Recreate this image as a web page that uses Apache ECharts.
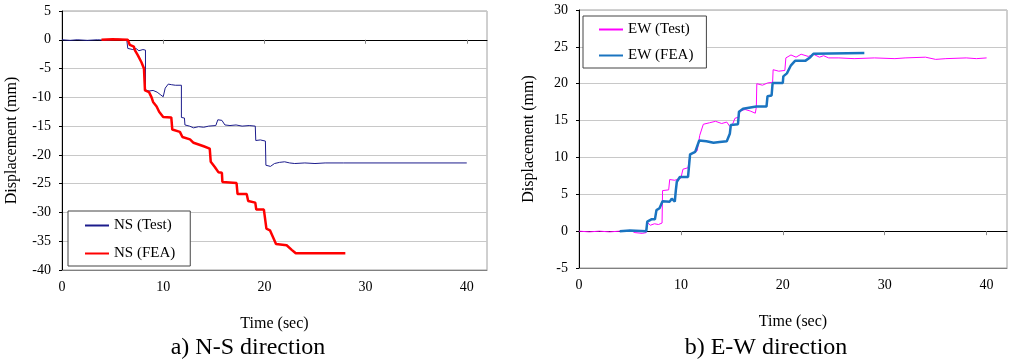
<!DOCTYPE html>
<html>
<head>
<meta charset="utf-8">
<script src="https://cdn.jsdelivr.net/npm/echarts@6/dist/echarts.min.js"></script>
<style>
  html, body { margin: 0; padding: 0; background: #fff; }
  #chart { width: 1014px; height: 364px; }
</style>
</head>
<body>
<div id="chart"></div>
<script>
// time (sec) / displacement (mm) pairs
var nsTest = [
    [0, 0], [0.8, -0.1], [1.5, 0], [2.5, -0.1], [3.5, 0], [4.5, -0.1], [5.5, 0.1], [6.4, 0],
    [6.5, -1.5], [7, -1.7], [7.3, -1.5], [7.6, -1.9], [8, -1.7], [8.25, -1.8],
    [8.25, -8.7], [8.6, -8.9], [9, -8.8], [9.4, -9.1], [9.7, -9.5], [10, -9.9],
    [10.2, -8.4], [10.5, -7.7], [10.8, -7.8], [11.2, -7.9], [11.8, -7.9],
    [11.8, -13.5], [12.1, -13.6], [12.15, -14.8], [12.6, -15.0], [13, -15.3], [13.5, -15.1],
    [14, -15.2], [14.5, -15.0], [15.2, -14.9], [15.4, -13.9], [15.8, -14.0], [16.1, -14.8],
    [16.6, -14.9], [17.2, -14.8], [17.8, -15.0], [18.5, -14.9], [19.1, -15.0],
    [19.15, -17.5], [19.6, -17.4], [20.1, -17.6],
    [20.15, -21.8], [20.6, -22.0], [21, -21.5], [21.5, -21.3], [22, -21.2], [22.5, -21.4],
    [23, -21.5], [24, -21.4], [25, -21.5], [26, -21.4], [27.8, -21.4], [40, -21.4]
];
var nsFea = [
    [3.9, 0], [5, 0.1], [6.5, 0], [6.7, -0.9], [7.1, -1.2], [7.2, -1.8], [7.5, -2.7],
    [7.85, -3.9], [8.1, -5], [8.2, -8.8], [8.6, -9.1], [8.85, -10], [9.0, -10.8],
    [9.35, -11.6], [9.6, -12.5], [10.0, -13.4], [10.8, -13.5], [10.9, -15.6], [11.65, -16.0],
    [11.9, -16.9], [12.65, -17.3], [13, -17.9], [14, -18.5], [14.6, -18.9], [14.7, -21.2],
    [15.1, -22.1], [15.45, -23], [15.8, -23.1], [15.85, -24.7], [17.25, -24.9], [17.35, -26.8],
    [18.25, -26.8], [18.4, -28], [19.1, -28.3], [19.2, -29.5], [19.95, -29.5], [20.2, -32.8],
    [20.55, -33.1], [20.9, -34.5], [21.15, -35.5], [22.2, -35.7], [22.7, -36.5], [23.1, -37.1],
    [28, -37.1]
];
var ewTest = [
    [0, 0], [1, -0.1], [2, 0], [3, -0.1], [4, 0], [5, 0.1], [5.5, -0.2], [6.2, -0.3], [6.6, -0.2],
    [6.7, 1.2], [7, 0.8], [7.4, 1.0], [7.8, 0.9], [8.15, 1.1], [8.2, 5.5], [8.8, 5.6],
    [8.9, 7.0], [9.4, 6.9], [10, 7.2], [10.2, 8.4], [10.7, 8.6], [10.9, 10.4], [11.3, 10.6],
    [11.6, 10.9], [11.85, 13.0], [12.2, 14.5], [12.8, 14.7], [13.4, 14.9], [14, 14.6],
    [14.5, 14.8], [14.8, 14.2], [15.1, 14.6], [15.3, 15.3], [15.7, 15.5], [15.8, 16.3],
    [16.3, 16.5], [16.8, 16.3], [17.3, 16.0], [17.4, 16.8], [17.45, 20.0], [18, 19.8],
    [18.5, 20.1], [19.0, 20.2], [19.05, 21.9], [19.6, 21.7], [20.2, 21.8], [20.3, 23.5],
    [20.8, 23.9], [21.3, 23.6], [21.8, 24.0], [22.5, 23.7], [23, 24.0], [23.6, 23.6],
    [24, 23.8], [24.5, 23.5], [25.5, 23.5], [27, 23.4], [29, 23.5], [31, 23.4], [32, 23.5],
    [34, 23.6], [35, 23.3], [36, 23.4], [38, 23.5], [39, 23.4], [40, 23.5]
];
var ewFea = [
    [4, 0], [5, 0.1], [6.6, 0], [6.7, 1.3], [7.1, 1.6], [7.45, 1.6], [7.6, 2.85], [7.9, 3.1],
    [8.2, 4.05], [8.9, 4.0], [9.1, 4.4], [9.4, 4.0], [9.5, 5.5], [9.6, 6.7], [9.9, 7.35],
    [10.7, 7.35], [10.9, 10.4], [11.4, 10.75], [11.8, 12.3], [12.5, 12.2], [13.2, 12.0],
    [13.8, 12.1], [14.5, 12.2], [14.8, 13.2], [14.9, 14.4], [15.6, 14.5], [15.7, 16.2],
    [16.1, 16.6], [17.4, 16.9], [18.4, 16.9], [18.5, 18.3], [18.9, 18.4], [19.0, 20.1],
    [20.0, 20.1], [20.05, 21.0], [20.4, 21.4], [20.8, 22.5], [21.2, 23.1], [22.2, 23.1],
    [22.7, 23.6], [23.0, 24.05], [28, 24.15]
];
var timeTicks = [0, 10, 20, 30, 40];
var captions = ['a) N-S direction', 'b) E-W direction'];

var serif = 'Liberation Serif';
var chart = echarts.init(document.getElementById('chart'));

function labelAxis(grid) {
    return {
        type: 'value', gridIndex: grid, min: 0, max: 42, interval: 10,
        name: 'Time (sec)', nameLocation: 'middle', nameGap: 46,
        nameTextStyle: { fontFamily: serif, fontSize: 16, color: '#000' },
        axisLine: { onZero: false, lineStyle: { color: '#808080' } },
        axisTick: { show: false },
        axisLabel: { customValues: timeTicks, margin: 10, fontFamily: serif, fontSize: 14, color: '#000' },
        splitLine: { show: false }
    };
}
function zeroAxis(grid) {
    return {
        type: 'value', gridIndex: grid, min: 0, max: 42, interval: 10,
        axisLine: { onZero: true, lineStyle: { color: '#000', width: 1 } },
        axisTick: { show: true, inside: true, length: 4, customValues: [10, 20, 30, 40], lineStyle: { color: '#888' } },
        axisLabel: { show: false },
        splitLine: { show: false }
    };
}
function dispAxis(grid, lo, hi) {
    return {
        type: 'value', gridIndex: grid, min: lo, max: hi, interval: 5,
        name: 'Displacement (mm)', nameLocation: 'middle', nameGap: 42,
        nameTextStyle: { fontFamily: serif, fontSize: 16, color: '#000' },
        axisLine: { show: true, lineStyle: { color: '#000' } },
        axisTick: { show: true, length: 3, lineStyle: { color: '#000' } },
        axisLabel: { margin: 11, fontFamily: serif, fontSize: 14, color: '#000' },
        splitLine: { lineStyle: { color: '#c8c8c8' } }
    };
}
function legendBox(left, top, names, gap, pad) {
    return {
        left: left, top: top, orient: 'vertical', data: names,
        itemWidth: 24, itemHeight: 14, itemGap: gap,
        padding: pad,
        itemStyle: { opacity: 0 },
        borderColor: '#444', borderWidth: 1, backgroundColor: '#fff',
        textStyle: { fontFamily: serif, fontSize: 15, color: '#000' }
    };
}

var option = {
    animation: false,
    grid: [
        { left: 62, top: 11, width: 425, height: 259, show: true, borderColor: '#a0a0a0', borderWidth: 1 },
        { left: 579, top: 10, width: 428, height: 258, show: true, borderColor: '#a0a0a0', borderWidth: 1 }
    ],
    xAxis: [labelAxis(0), zeroAxis(0), labelAxis(1), zeroAxis(1)],
    yAxis: [dispAxis(0, -40, 5), dispAxis(1, -5, 30)],
    legend: [
        legendBox(68, 211, ['NS (Test)', 'NS (FEA)'], 13, [7, 15, 5, 16]),
        legendBox(583, 16, ['EW (Test)', 'EW (FEA)'], 11, [6, 13, 5, 15])
    ],
    series: [
        { name: 'NS (Test)', type: 'line', data: nsTest, xAxisIndex: 0, yAxisIndex: 0, symbol: 'none',
          lineStyle: { color: '#1c1c8c', width: 1 }, itemStyle: { color: '#1c1c8c' } },
        { name: 'NS (FEA)', type: 'line', data: nsFea, xAxisIndex: 0, yAxisIndex: 0, symbol: 'none',
          lineStyle: { color: '#ff0000', width: 2.5 }, itemStyle: { color: '#ff0000' } },
        { name: 'EW (Test)', type: 'line', data: ewTest, xAxisIndex: 2, yAxisIndex: 1, symbol: 'none',
          lineStyle: { color: '#ff00ff', width: 1 }, itemStyle: { color: '#ff00ff' } },
        { name: 'EW (FEA)', type: 'line', data: ewFea, xAxisIndex: 2, yAxisIndex: 1, symbol: 'none',
          lineStyle: { color: '#1a74c0', width: 2.5 }, itemStyle: { color: '#1a74c0' } }
    ],
    graphic: [
        { type: 'text', x: 248, y: 348, style: { text: captions[0], textAlign: 'center', textVerticalAlign: 'middle',
          font: '24px "Liberation Serif"', fill: '#000' } },
        { type: 'text', x: 766, y: 348, style: { text: captions[1], textAlign: 'center', textVerticalAlign: 'middle',
          font: '24px "Liberation Serif"', fill: '#000' } }
    ]
};
chart.setOption(option);
</script>
</body>
</html>
